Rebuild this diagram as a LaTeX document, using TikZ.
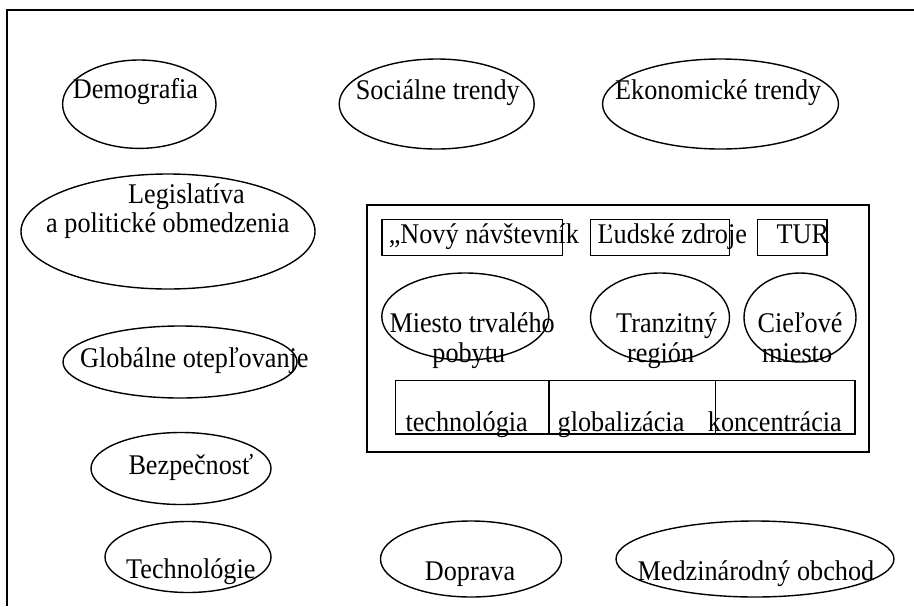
\documentclass[tikz,border=0pt]{standalone}
\usepackage{fontspec}
\setmainfont{Liberation Serif}[FakeStretch=0.92]
\usetikzlibrary{shapes.geometric}
\tikzset{
  ell/.style={draw, ellipse, line width=1.4pt, inner sep=0pt},
  rbox/.style={draw, rectangle, line width=1.4pt, inner sep=0pt},
  bigbox/.style={draw, rectangle, line width=2pt, inner sep=0pt},
  txt/.style={anchor=base west, inner sep=0pt, font=\fontsize{28.5pt}{30pt}\selectfont}
}
\begin{document}
\begin{tikzpicture}[x=1pt,y=-1pt]
\useasboundingbox (0,0) rectangle (914,606);
% outer frame
\draw[line width=2pt] (6,10) -- (914,10);
\draw[line width=1.3pt] (7,10) -- (7,606);

% ellipses
\node[ell, minimum width=153.4pt, minimum height=88.4pt] (demo) at (139.3,104.2) {};
\node[ell, minimum width=195pt, minimum height=90pt] (soc) at (436.7,104) {};
\node[ell, minimum width=236pt, minimum height=90pt] (eko) at (720.5,104) {};
\node[ell, minimum width=294pt, minimum height=115pt] (leg) at (168,231.5) {};
\node[ell, minimum width=234pt, minimum height=72pt] (glob) at (180,362) {};
\node[ell, minimum width=180pt, minimum height=72pt] (bez) at (181,468.5) {};
\node[ell, minimum width=166pt, minimum height=71pt] (tech) at (188,557) {};
\node[ell, minimum width=181pt, minimum height=76pt] (dop) at (471,559) {};
\node[ell, minimum width=278pt, minimum height=76pt] (med) at (755,559) {};
\node[ell, minimum width=167pt, minimum height=87pt] (mies) at (465.3,316.5) {};
\node[ell, minimum width=139pt, minimum height=89pt] (tranz) at (660,317.5) {};
\node[ell, minimum width=112pt, minimum height=89pt] (ciel) at (800,317.5) {};

% boxes
\node[bigbox, minimum width=501.6pt, minimum height=247pt] (inner) at (618.2,328.5) {};
\node[rbox, minimum width=180.8pt, minimum height=35.9pt] (nov) at (472.2,237.55) {};
\node[rbox, minimum width=139.1pt, minimum height=35.9pt] (lud) at (659.95,237.55) {};
\node[rbox, minimum width=69.6pt, minimum height=35.9pt] (tur) at (792.2,237.55) {};
\node[rbox, minimum width=153.5pt, minimum height=53.7pt] (tl) at (472.05,407.15) {};
\node[rbox, minimum width=166.6pt, minimum height=53.7pt] (gl) at (632.1,407.15) {};
\node[rbox, minimum width=139.4pt, minimum height=53.7pt] (ko) at (785.1,407.15) {};

% texts
\node[txt] (tdemo) at (72.7,98) {Demografia};
\node[txt] (tsoc) at (355.7,99) {Sociálne trendy};
\node[txt] (teko) at (615,99) {Ekonomické trendy};
\node[txt] (tleg1) at (128,203) {Legislatíva};
\node[txt] (tleg2) at (46,232) {a politické obmedzenia};
\node[txt] (tglob) at (80,367) {Globálne otepľovanje};
\node[txt] (tbez) at (128.3,474) {Bezpečnosť};
\node[txt] (ttech) at (126,578) {Technológie};
\node[txt] (tdop) at (424.7,580) {Doprava};
\node[txt] (tmed) at (637.4,580) {Medzinárodný obchod};

\node[txt] (tnov) at (388.6,243) {„Nový návštevník};
\node[txt] (tlud) at (597.5,243) {Ľudské zdroje};
\node[txt] (ttur) at (776.5,243) {TUR};
\node[txt] (tmies1) at (389.3,332) {Miesto trvalého};
\node[txt] (tmies2) at (432.2,362) {pobytu};
\node[txt] (ttranz1) at (616,332) {Tranzitný};
\node[txt] (ttranz2) at (627,362) {región};
\node[txt] (tciel1) at (757.4,332) {Cieľové};
\node[txt] (tciel2) at (762,362) {miesto};
\node[txt] (ttl) at (405.3,431) {technológia};
\node[txt] (tgl) at (557.5,431) {globalizácia};
\node[txt] (tko) at (707.7,431) {koncentrácia};
\end{tikzpicture}
\end{document}
